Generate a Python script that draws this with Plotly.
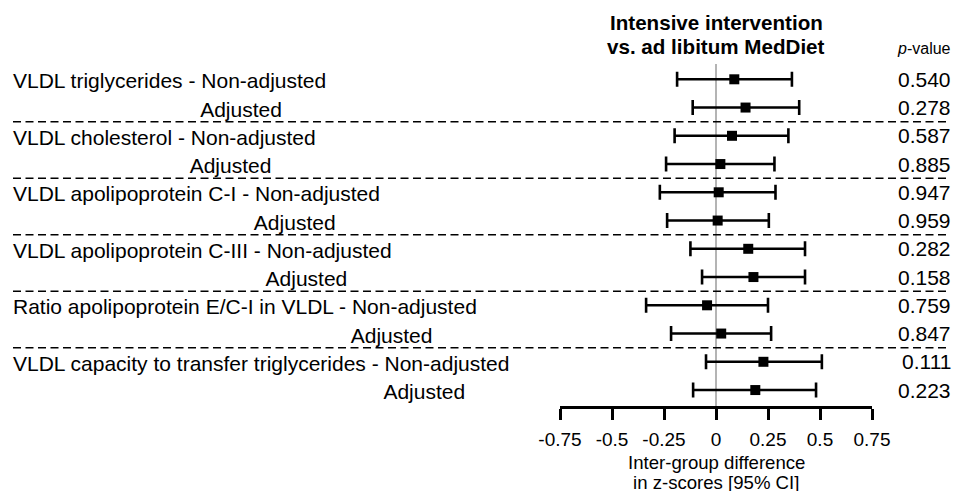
import plotly.graph_objects as go

# ---------------- data ----------------
outcomes = [
    "VLDL triglycerides",
    "VLDL cholesterol",
    "VLDL apolipoprotein C-I",
    "VLDL apolipoprotein C-III",
    "Ratio apolipoprotein E/C-I in VLDL",
    "VLDL capacity to transfer triglycerides",
]
models = ["Non-adjusted", "Adjusted"]

estimate = [0.088, 0.142, 0.077, 0.021, 0.013, 0.008, 0.155, 0.180, -0.043, 0.025, 0.228, 0.189]
ci_low = [-0.187, -0.112, -0.199, -0.240, -0.270, -0.235, -0.123, -0.067, -0.336, -0.216, -0.048, -0.110]
ci_high = [0.365, 0.400, 0.348, 0.281, 0.286, 0.254, 0.428, 0.428, 0.250, 0.265, 0.509, 0.481]
p_values = ["0.540", "0.278", "0.587", "0.885", "0.947", "0.959",
            "0.282", "0.158", "0.759", "0.847", "0.111", "0.223"]

tick_vals = [-0.75, -0.5, -0.25, 0, 0.25, 0.5, 0.75]
tick_text = ["-0.75", "-0.5", "-0.25", "0", "0.25", "0.5", "0.75"]

title_lines = ["Intensive intervention", "vs. ad libitum MedDiet"]
xtitle_lines = ["Inter-group difference", "in z-scores [95% CI]"]
pval_header = "<i>p</i>-value"

# ---------------- layout geometry ----------------
W, H = 954, 491
L, R, T, B = 560, 872, 64, 406          # plot-area pixel box
FONT = "Liberation Sans, Arial, sans-serif"


def px_x(px):
    return (px - L) / (R - L)


def px_y(py):
    return (B - py) / (B - T)


n = len(estimate)
rows = list(range(n))
row_top_px, row_step_px = 79.3, 28.25
y_top = -(row_top_px - T) / row_step_px
y_bot = (n - 1) + (B - (row_top_px + row_step_px * (n - 1))) / row_step_px

err_plus = [h - e for h, e in zip(ci_high, estimate)]
err_minus = [e - l for e, l in zip(estimate, ci_low)]

fig = go.Figure()
fig.add_trace(go.Scatter(
    x=estimate, y=rows, mode="markers",
    marker=dict(symbol="square", size=10, color="black"),
    error_x=dict(type="data", symmetric=False, array=err_plus, arrayminus=err_minus,
                 color="black", thickness=2.6, width=7.5),
    showlegend=False, hoverinfo="skip", cliponaxis=False,
))

annotations = []
shapes = []
for g, name in enumerate(outcomes):
    r0 = 2 * g
    annotations.append(dict(
        x=px_x(10.5), xref="paper", y=r0 + 0.06, yref="y", xanchor="left", yanchor="middle",
        text=f"{name} - {models[0]}", showarrow=False,
        font=dict(family=FONT, size=21, color="black")))
    annotations.append(dict(
        x=px_x(10.5), xref="paper", y=r0 + 1.06, yref="y", xanchor="left", yanchor="middle",
        text=f"<span style='color:rgba(0,0,0,0)'>{name} - </span>{models[1]}", showarrow=False,
        font=dict(family=FONT, size=21, color="black")))
    if g > 0:
        shapes.append(dict(type="line", xref="paper", yref="y",
                           x0=px_x(13), x1=px_x(950), y0=r0 - 0.5, y1=r0 - 0.5,
                           line=dict(color="black", width=1.5, dash="8px,4.5px")))

for i, p in enumerate(p_values):
    annotations.append(dict(
        x=px_x(952.5), xref="paper", y=i, yref="y", xanchor="right", yanchor="middle",
        text=p, showarrow=False, font=dict(family=FONT, size=21, color="black")))

annotations.append(dict(
    x=px_x(952.5), xref="paper", y=px_y(48), yref="paper", xanchor="right", yanchor="middle",
    text=pval_header, showarrow=False, font=dict(family=FONT, size=16, color="black")))

for k, line in enumerate(title_lines):
    annotations.append(dict(
        x=0, xref="x", y=px_y(23 + 24 * k), yref="paper", xanchor="center", yanchor="middle",
        text=f"<b>{line}</b>", showarrow=False, font=dict(family=FONT, size=20.6, color="black")))

for k, line in enumerate(xtitle_lines):
    annotations.append(dict(
        x=0, xref="x", y=px_y(462 + 20 * k), yref="paper", xanchor="center", yanchor="middle",
        text=line, showarrow=False, font=dict(family=FONT, size=18.6, color="black")))

fig.update_layout(
    width=W, height=H,
    margin=dict(l=L, r=W - R, t=T, b=H - B, pad=0),
    paper_bgcolor="white", plot_bgcolor="white",
    font=dict(family=FONT, color="black"),
    xaxis=dict(range=[-0.75, 0.75], tickvals=tick_vals, ticktext=tick_text,
               showline=True, linecolor="black", linewidth=3,
               ticks="outside", ticklen=11, tickwidth=3, tickcolor="black",
               ticklabelstandoff=3,
               tickfont=dict(family=FONT, size=19, color="black"),
               showgrid=False, zeroline=True, zerolinecolor="#b4b4b4", zerolinewidth=2,
               fixedrange=True),
    yaxis=dict(range=[y_bot, y_top], visible=False, showgrid=False, zeroline=False,
               fixedrange=True),
    annotations=annotations, shapes=shapes,
)

fig.write_html(
    "out.html",
    config={"displayModeBar": False},
    post_script="document.body.style.margin='0';document.body.style.overflow='hidden';",
)
